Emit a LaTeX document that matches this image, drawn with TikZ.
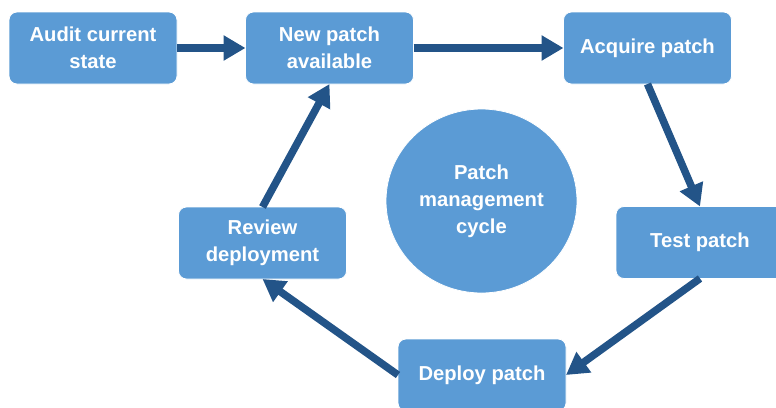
\documentclass[tikz,border=0pt]{standalone}
\usepackage{fontspec}
\setmainfont{Liberation Sans}
\usetikzlibrary{shapes, arrows.meta, positioning}
\definecolor{boxblue}{RGB}{91,155,213}
\definecolor{arrowblue}{RGB}{35,84,136}
\tikzstyle{stage} = [rectangle, rounded corners=8pt, fill=boxblue, draw=white, line width=0.8pt, minimum width=168pt, minimum height=72pt, outer sep=0pt, align=center, text=white, font=\fontsize{20.2}{27}\selectfont\bfseries]
\tikzstyle{hub} = [ellipse, fill=boxblue, draw=white, line width=0.8pt, minimum width=191pt, minimum height=184pt, inner sep=0pt, align=center, text=white, font=\fontsize{20.2}{27}\selectfont\bfseries]
\tikzstyle{flow} = [-{Triangle[width=24pt, length=22pt]}, line width=7.5pt, draw=arrowblue]

\begin{document}
\begin{tikzpicture}[x=1pt, y=-1pt]
  \useasboundingbox (0,0) rectangle (776,407);
  % 步骤
  \node[stage] (audit) at (93,48) {Audit current\\state};
  \node[stage] (newpatch) at (329.5,48) {New patch\\available};
  \node[stage] (acquire) at (647.5,48) {Acquire patch};
  \node[stage] (test) at (700,242.5) {Test patch};
  \node[stage] (deploy) at (482,375) {Deploy patch};
  \node[stage] (review) at (262.5,243) {Review\\deployment};
  
  % 中心
  \node[hub] (cycle) at (481.5,201) {Patch\\management\\cycle};
  
  % 箭头
  \draw[flow] (audit) -- (newpatch);
  \draw[flow] (newpatch) -- (acquire);
  \draw[flow] (acquire.south) -- (test.north);
  \draw[flow] (test.south) -- (deploy.east);
  \draw[flow] (deploy.west) -- (review.south);
  \draw[flow] (review.north) -- (newpatch.south);
\end{tikzpicture}
\end{document}
